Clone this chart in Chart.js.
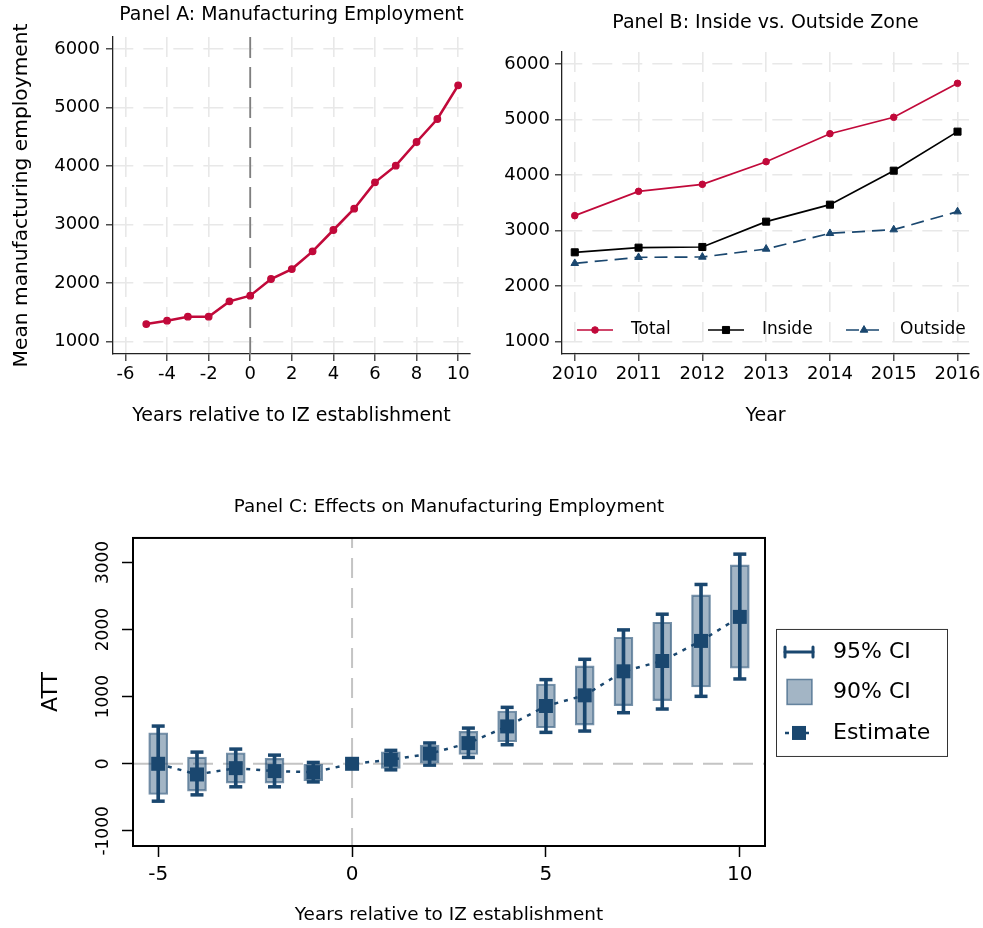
<!DOCTYPE html>
<html>
<head>
<meta charset="utf-8">
<title>Industrial zones and manufacturing employment</title>
<script src="https://cdn.jsdelivr.net/npm/chart.js@4.4.1/dist/chart.umd.min.js"></script>
<style>
  html, body { margin: 0; padding: 0; background: #ffffff; }
  body { width: 983px; height: 928px; position: relative; overflow: hidden; }
  .panel { position: absolute; }
  #boxA { left: 0; top: 0; width: 480px; height: 440px; }
  #boxB { left: 480px; top: 0; width: 503px; height: 440px; }
  #boxC { left: 0; top: 480px; width: 983px; height: 448px; }
</style>
</head>
<body>
<div class="panel" id="boxA"><canvas id="panelA"></canvas></div>
<div class="panel" id="boxB"><canvas id="panelB"></canvas></div>
<div class="panel" id="boxC"><canvas id="panelC"></canvas></div>
<script>
// ---- Panel A: mean manufacturing employment by event time ----
const eventYears = [-5, -4, -3, -2, -1, 0, 1, 2, 3, 4, 5, 6, 7, 8, 9, 10];
const meanEmployment = [1302, 1359, 1427, 1427, 1689, 1786, 2071, 2241, 2543, 2908, 3272, 3722, 4007, 4411, 4804, 5379];
const panelATicksX = [-6, -4, -2, 0, 2, 4, 6, 8, 10];
const panelATicksY = [1000, 2000, 3000, 4000, 5000, 6000];

// ---- Panel B: inside vs. outside the zone, calendar years ----
const calendarYears = [2010, 2011, 2012, 2013, 2014, 2015, 2016];
const totalEmployment = [3269, 3707, 3833, 4241, 4745, 5040, 5652];
const insideEmployment = [2609, 2693, 2705, 3161, 3467, 4079, 4782];
const outsideEmployment = [2411, 2519, 2525, 2669, 2951, 3017, 3341];
const panelBTicksY = [1000, 2000, 3000, 4000, 5000, 6000];

// ---- Panel C: event-study ATT with confidence intervals (year 0 is the reference) ----
const attEstimate = [0, -159, -65, -109, -125, 0, 60, 150, 308, 557, 861, 1020, 1378, 1532, 1831, 2189];
const ci95Low  = [-557, -463, -343, -343, -270, null, -90, -20, 95, 284, 468, 488, 761, 816, 1005, 1264];
const ci95High = [562, 174, 219, 129, 20, null, 200, 310, 532, 841, 1254, 1557, 1995, 2229, 2672, 3124];
const ci90Low  = [-458, -408, -289, -289, -250, null, -70, 0, 139, 328, 537, 577, 866, 940, 1144, 1423];
const ci90High = [463, 100, 164, 80, 0, null, 180, 280, 483, 786, 1189, 1458, 1886, 2109, 2517, 2965];
const panelCTicksX = [-5, 0, 5, 10];
const panelCTicksY = [-1000, 0, 1000, 2000, 3000];

const FONT = '"DejaVu Sans", Verdana, sans-serif';
const RED = '#c1093a';
const NAVY = '#1a476f';
const NAVY_FILL = 'rgba(26, 71, 111, 0.40)';
const NAVY_EDGE = 'rgba(26, 71, 111, 0.60)';

Chart.defaults.font.family = FONT;
Chart.defaults.font.size = 18;
Chart.defaults.color = '#000';

const plain = v => String(v);
const fixTicks = values => scale => { scale.ticks = values.map(v => ({ value: v })); };
const fixSize = (prop, size) => scale => {
  scale[prop] = size;
  scale.paddingLeft = 0; scale.paddingRight = 0; scale.paddingTop = 0; scale.paddingBottom = 0;
};
const xy = (xs, ys) => xs.map((x, i) => ({ x, y: ys[i] })).filter(p => p.y !== null);

// dashed reference lines at given x / y values
const refLines = {
  id: 'refLines',
  beforeDatasetsDraw(chart, args, o) {
    const { ctx, chartArea: a, scales: { x, y } } = chart;
    ctx.save();
    ctx.lineWidth = o.width;
    ctx.strokeStyle = o.color;
    ctx.setLineDash(o.dash);
    (o.ys || []).forEach(v => {
      const py = y.getPixelForValue(v);
      ctx.beginPath(); ctx.moveTo(a.left, py); ctx.lineTo(a.right, py); ctx.stroke();
    });
    ctx.lineDashOffset = o.vOffset || 0;
    (o.xs || []).forEach(v => {
      const px = x.getPixelForValue(v);
      ctx.beginPath(); ctx.moveTo(px, a.top); ctx.lineTo(px, a.bottom); ctx.stroke();
    });
    ctx.restore();
  }
};

function marker(ctx, style, cx, cy, r) {
  ctx.beginPath();
  if (style === 'circle') {
    ctx.arc(cx, cy, r, 0, Math.PI * 2);
  } else if (style === 'rect') {
    const s = r * Math.SQRT1_2;
    ctx.rect(cx - s, cy - s, 2 * s, 2 * s);
  } else if (style === 'triangle') {
    for (let k = 0; k < 3; k++) {
      const ang = k * 2 * Math.PI / 3;
      const px = cx + Math.sin(ang) * r, py = cy - Math.cos(ang) * r;
      if (k === 0) ctx.moveTo(px, py); else ctx.lineTo(px, py);
    }
    ctx.closePath();
  }
  ctx.fill();
  ctx.stroke();
}

// one-row key inside the plot of Panel B
const rowLegend = {
  id: 'rowLegend',
  afterDraw(chart, args, o) {
    const { ctx, chartArea: a } = chart;
    const y = a.bottom - o.rise;
    chart.data.datasets.forEach((ds, i) => {
      const x0 = a.left + o.starts[i];
      ctx.save();
      ctx.strokeStyle = ds.borderColor;
      ctx.lineWidth = ds.borderWidth;
      ctx.setLineDash(ds.borderDash || []);
      ctx.beginPath(); ctx.moveTo(x0, y); ctx.lineTo(x0 + o.lineLen, y); ctx.stroke();
      ctx.setLineDash([]);
      ctx.fillStyle = ds.pointBackgroundColor;
      ctx.strokeStyle = ds.pointBorderColor;
      ctx.lineWidth = ds.pointBorderWidth;
      marker(ctx, ds.pointStyle, x0 + o.lineLen / 2, y, ds.pointRadius);
      ctx.fillStyle = '#000';
      ctx.font = o.size + 'px ' + FONT;
      ctx.textBaseline = 'middle';
      ctx.textAlign = 'left';
      ctx.fillText(ds.label, x0 + o.textGap, y);
      ctx.restore();
    });
  }
};

// vertical tick labels, full frame and key for Panel C
const panelCDecor = {
  id: 'panelCDecor',
  afterDatasetsDraw(chart, args, o) {
    const { ctx, chartArea: a } = chart;
    ctx.save();
    ctx.strokeStyle = '#000';
    ctx.lineWidth = 2;
    ctx.strokeRect(a.left, a.top, a.right - a.left, a.bottom - a.top);
    ctx.restore();
  },
  afterDraw(chart, args, o) {
    const { ctx, chartArea: a } = chart;
    const ys = chart.scales.y;
    ctx.save();
    ctx.font = o.tickSize + 'px ' + FONT;
    ctx.fillStyle = '#000';
    ctx.textAlign = 'center';
    ctx.textBaseline = 'middle';
    ys.ticks.forEach(t => {
      ctx.save();
      ctx.translate(a.left - o.tickOffset, ys.getPixelForValue(t.value));
      ctx.rotate(-Math.PI / 2);
      ctx.fillText(String(t.value), 0, 0);
      ctx.restore();
    });
    ctx.restore();

    // key box
    const L = a.right + 11, T = a.top + 91, W = 171, H = 127;
    ctx.save();
    ctx.fillStyle = '#fff';
    ctx.fillRect(L, T, W, H);
    ctx.strokeStyle = '#333';
    ctx.lineWidth = 1;
    ctx.strokeRect(L + 0.5, T + 0.5, W, H);
    const rows = [T + 23, T + 63, T + 104];
    // 95% CI: capped range
    ctx.strokeStyle = NAVY; ctx.lineWidth = 3; ctx.lineCap = 'round';
    ctx.beginPath(); ctx.moveTo(L + 9, rows[0]); ctx.lineTo(L + 37, rows[0]); ctx.stroke();
    ctx.beginPath(); ctx.moveTo(L + 9, rows[0] - 5); ctx.lineTo(L + 9, rows[0] + 5); ctx.stroke();
    ctx.beginPath(); ctx.moveTo(L + 37, rows[0] - 5); ctx.lineTo(L + 37, rows[0] + 5); ctx.stroke();
    // 90% CI: shaded bar
    ctx.lineCap = 'butt';
    ctx.fillStyle = NAVY_FILL; ctx.strokeStyle = NAVY_EDGE; ctx.lineWidth = 1.5;
    ctx.fillRect(L + 11, rows[1] - 12.5, 25, 25);
    ctx.strokeRect(L + 11, rows[1] - 12.5, 25, 25);
    // estimate: dotted connector with square marker
    ctx.strokeStyle = NAVY; ctx.lineWidth = 2.5; ctx.setLineDash([4, 6]);
    ctx.beginPath(); ctx.moveTo(L + 9, rows[2]); ctx.lineTo(L + 37, rows[2]); ctx.stroke();
    ctx.setLineDash([]);
    ctx.fillStyle = NAVY;
    ctx.fillRect(L + 16, rows[2] - 7, 14, 14);
    ctx.fillStyle = '#000';
    ctx.font = o.keySize + 'px ' + FONT;
    ctx.textAlign = 'left';
    ctx.textBaseline = 'middle';
    o.keyLabels.forEach((txt, i) => ctx.fillText(txt, L + 57, rows[i]));
    ctx.restore();
  }
};

const gridA = { color: '#e8e8e8', lineWidth: 1.6, drawTicks: true, tickLength: 7, tickColor: '#222', tickWidth: 1.2 };
const borderA = { display: true, color: '#222', width: 1.3, dash: [20, 10] };

// ---------- Panel A ----------
new Chart(document.getElementById('panelA'), {
  type: 'line',
  data: {
    datasets: [{
      label: 'Mean manufacturing employment',
      data: xy(eventYears, meanEmployment),
      borderColor: RED, backgroundColor: RED, borderWidth: 2.6, tension: 0,
      pointStyle: 'circle', pointRadius: 3.3, pointBorderWidth: 1.2,
      pointBackgroundColor: RED, pointBorderColor: RED
    }]
  },
  options: {
    responsive: true, maintainAspectRatio: false, animation: false, events: [],
    layout: { padding: { left: 0, right: 10, top: 0, bottom: 0 } },
    plugins: {
      legend: { display: false }, tooltip: { enabled: false },
      title: { display: true, text: 'Panel A: Manufacturing Employment', fullSize: false,
               font: { size: 18.9, weight: 'normal' }, color: '#000', padding: { top: 3.3, bottom: 11.0 } },
      refLines: { xs: [0], color: '#7f7f7f', width: 1.8, dash: [21, 9] }
    },
    scales: {
      x: {
        type: 'linear', min: -6.6, max: 10.57,
        afterBuildTicks: fixTicks(panelATicksX), afterFit: fixSize('height', 86),
        grid: gridA, border: borderA,
        ticks: { padding: 3, font: { size: 18 }, color: '#000', maxRotation: 0, autoSkip: false, callback: plain },
        title: { display: true, text: 'Years relative to IZ establishment', font: { size: 19 }, color: '#000', padding: { bottom: 13 } }
      },
      y: {
        type: 'linear', min: 790, max: 6205,
        afterBuildTicks: fixTicks(panelATicksY), afterFit: fixSize('width', 113),
        grid: gridA, border: borderA,
        ticks: { padding: 6, font: { size: 18 }, color: '#000', autoSkip: false, callback: plain },
        title: { display: true, text: 'Mean manufacturing employment', font: { size: 20.2 }, color: '#000', padding: { top: 10 } }
      }
    }
  },
  plugins: [refLines]
});

// ---------- Panel B ----------
new Chart(document.getElementById('panelB'), {
  type: 'line',
  data: {
    datasets: [
      { label: 'Total', data: xy(calendarYears, totalEmployment),
        borderColor: RED, backgroundColor: RED, borderWidth: 1.7, tension: 0,
        pointStyle: 'circle', pointRadius: 3.3, pointBorderWidth: 1,
        pointBackgroundColor: RED, pointBorderColor: RED },
      { label: 'Inside', data: xy(calendarYears, insideEmployment),
        borderColor: '#000', backgroundColor: '#000', borderWidth: 1.7, tension: 0,
        pointStyle: 'rect', pointRadius: 5, pointBorderWidth: 1,
        pointBackgroundColor: '#000', pointBorderColor: '#000' },
      { label: 'Outside', data: xy(calendarYears, outsideEmployment),
        borderColor: NAVY, backgroundColor: NAVY, borderWidth: 1.7, borderDash: [13, 7], tension: 0,
        pointStyle: 'triangle', pointRadius: 4.4, pointBorderWidth: 1,
        pointBackgroundColor: NAVY, pointBorderColor: NAVY }
    ]
  },
  options: {
    responsive: true, maintainAspectRatio: false, animation: false, events: [],
    layout: { padding: { left: 0, right: 14, top: 0, bottom: 0 } },
    plugins: {
      legend: { display: false }, tooltip: { enabled: false },
      title: { display: true, text: 'Panel B: Inside vs. Outside Zone', fullSize: false,
               font: { size: 19, weight: 'normal' }, color: '#000', padding: { top: 11.5, bottom: 17.7 } },
      rowLegend: { rise: 24, starts: [15, 146, 284], lineLen: 36, textGap: 54, size: 17 }
    },
    scales: {
      x: {
        type: 'linear', min: 2009.8, max: 2016.18,
        afterBuildTicks: fixTicks(calendarYears), afterFit: fixSize('height', 86),
        grid: gridA, border: borderA,
        ticks: { padding: 3, font: { size: 18 }, color: '#000', maxRotation: 0, autoSkip: false, callback: plain },
        title: { display: true, text: 'Year', font: { size: 19 }, color: '#000', padding: { bottom: 13 } }
      },
      y: {
        type: 'linear', min: 778, max: 6216,
        afterBuildTicks: fixTicks(panelBTicksY), afterFit: fixSize('width', 82),
        grid: gridA, border: borderA,
        ticks: { padding: 5, font: { size: 18 }, color: '#000', autoSkip: false, callback: plain }
      }
    }
  },
  plugins: [rowLegend]
});

// ---------- Panel C ----------
const capPoints = xy(eventYears, ci95High).concat(xy(eventYears, ci95Low));
const range = (lo, hi) => eventYears.map((x, i) => ({ x, y: [lo[i], hi[i]] })).filter(p => p.y[0] !== null);

new Chart(document.getElementById('panelC'), {
  type: 'bar',
  data: {
    datasets: [
      { type: 'line', label: 'Estimate', data: xy(eventYears, attEstimate), order: 0,
        borderColor: NAVY, borderWidth: 2.5, borderDash: [4, 6], tension: 0, fill: false,
        pointStyle: 'rect', pointRadius: 9.9, pointBorderWidth: 0,
        pointBackgroundColor: NAVY, pointBorderColor: NAVY },
      { type: 'bar', label: '90% CI', data: range(ci90Low, ci90High), order: 1,
        grouped: false, barThickness: 19, maxBarThickness: 19,
        backgroundColor: NAVY_FILL, borderColor: NAVY_EDGE, borderWidth: 1.5, borderSkipped: false },
      { type: 'scatter', label: '95% CI caps', data: capPoints, order: 2, showLine: false,
        pointStyle: 'line', pointRadius: 6.5, pointBorderWidth: 3.5, pointBorderColor: NAVY, pointBackgroundColor: NAVY },
      { type: 'bar', label: '95% CI', data: range(ci95Low, ci95High), order: 3,
        grouped: false, barThickness: 3, maxBarThickness: 3,
        backgroundColor: NAVY, borderWidth: 0 }
    ]
  },
  options: {
    responsive: true, maintainAspectRatio: false, animation: false, events: [],
    layout: { padding: { left: 0, right: 218, top: 0, bottom: 0 } },
    plugins: {
      legend: { display: false }, tooltip: { enabled: false },
      title: { display: true, text: 'Panel C: Effects on Manufacturing Employment', fullSize: false,
               font: { size: 18.3, weight: 'normal' }, color: '#000', padding: { top: 16, bottom: 20 } },
      refLines: { xs: [0], ys: [0], color: '#c4c4c4', width: 2, dash: [20, 10], vOffset: 10 },
      panelCDecor: { tickSize: 17, tickOffset: 29.5, keySize: 22, keyLabels: ['95% CI', '90% CI', 'Estimate'] }
    },
    scales: {
      x: {
        type: 'linear', min: -5.65, max: 10.65, offset: false,
        afterBuildTicks: fixTicks(panelCTicksX), afterFit: fixSize('height', 82),
        grid: { offset: false, drawOnChartArea: false, drawTicks: true, tickLength: 11, tickColor: '#000', tickWidth: 1.5 },
        border: { display: false },
        ticks: { padding: 6, font: { size: 20 }, color: '#000', maxRotation: 0, autoSkip: false, callback: plain },
        title: { display: true, text: 'Years relative to IZ establishment', font: { size: 18.4 }, color: '#000', padding: { bottom: 2 } }
      },
      y: {
        type: 'linear', min: -1225, max: 3365, beginAtZero: false,
        afterBuildTicks: fixTicks(panelCTicksY), afterFit: fixSize('width', 133),
        grid: { drawOnChartArea: false, drawTicks: true, tickLength: 11, tickColor: '#000', tickWidth: 1.5 },
        border: { display: false },
        ticks: { display: false, callback: plain },
        title: { display: true, text: 'ATT', font: { size: 22 }, color: '#000', padding: { top: 37.8 } }
      }
    }
  },
  plugins: [refLines, panelCDecor]
});
</script>
</body>
</html>
